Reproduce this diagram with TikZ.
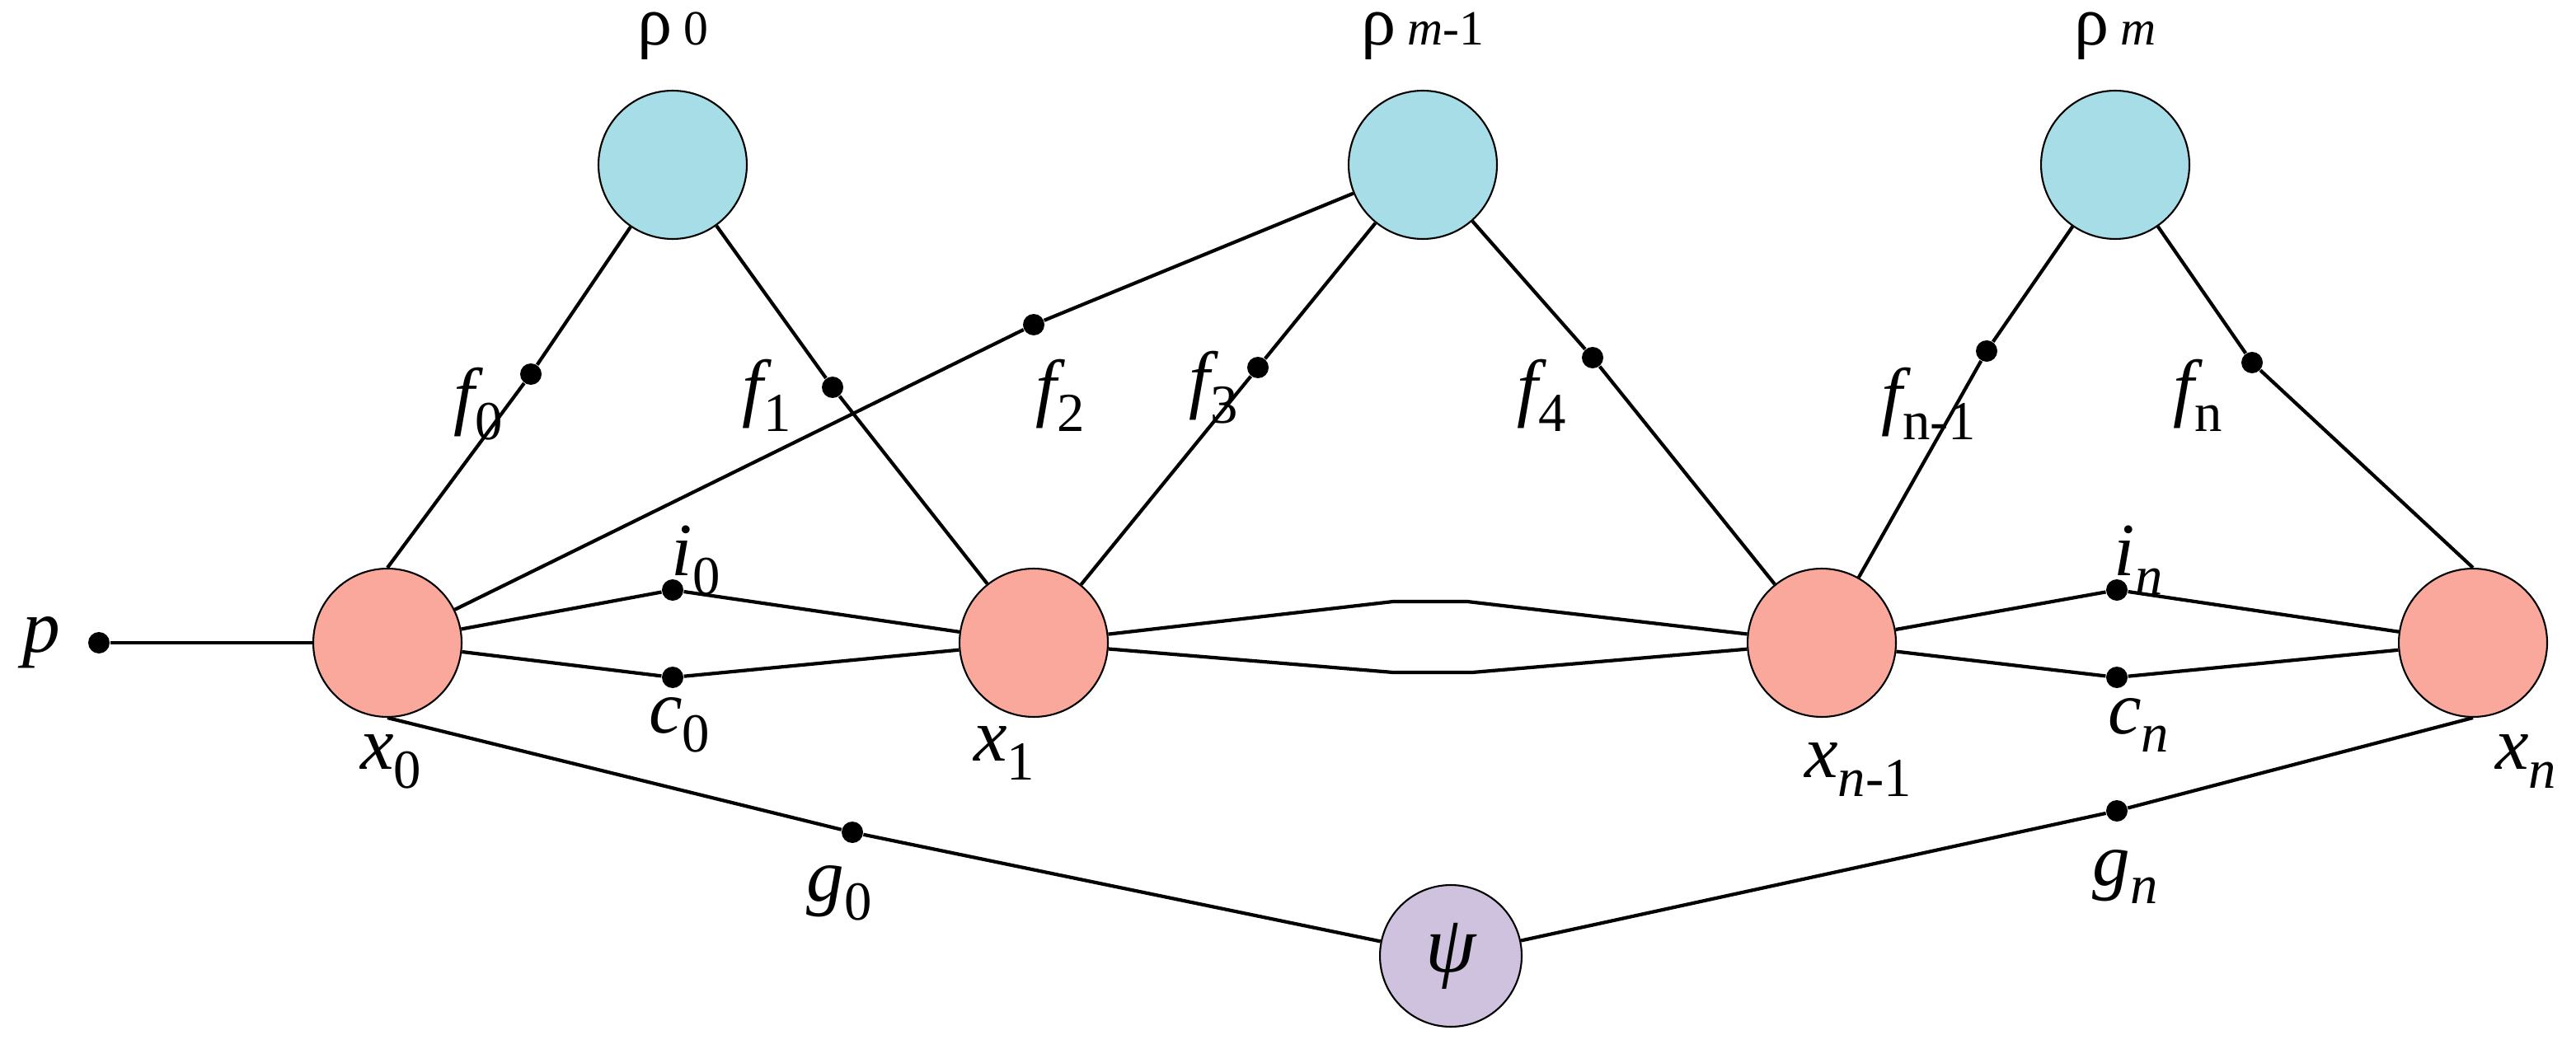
\documentclass[tikz,border=0pt]{standalone}
\usepackage{fontspec}
\setmainfont{Liberation Serif}
\newcommand{\sbs}[1]{\raisebox{-0.25em}{\fontsize{19}{20}\selectfont #1}}
\begin{document}
\begin{tikzpicture}[x=0.02cm,y=-0.02cm,
  bc/.style={circle,draw,fill={rgb,255:red,166;green,221;blue,230},minimum size=1.8cm,line width=0.6pt},
  rc/.style={circle,draw,fill={rgb,255:red,251;green,168;blue,156},minimum size=1.8cm,line width=0.6pt},
  pc/.style={circle,draw,fill={rgb,255:red,207;green,194;blue,222},minimum size=1.72cm,line width=0.6pt},
  dot/.style={circle,fill=black,minimum size=0.26cm,inner sep=0pt},
  lab/.style={font=\fontsize{26}{30}\selectfont\itshape,inner sep=1pt},
  edge/.style={line width=1.2pt}]
\useasboundingbox (0,0) rectangle (1562.5,636.5);
\node[bc] (r0) at (408,100) {};
\node[bc] (rm1) at (863,100) {};
\node[bc] (rm) at (1283,100) {};
\node[rc] (x0) at (235,390) {};
\node[rc] (x1) at (627,390) {};
\node[rc] (xn1) at (1105,390) {};
\node[rc] (xn) at (1500,390) {};
\node[pc,font=\fontsize{28}{30}\selectfont\itshape] (psi) at (880,580) {ψ};
\node[dot] (p) at (60,390) {};
\node[dot] (f0) at (322,227) {};
\node[dot] (f1) at (505,235) {};
\node[dot] (f2) at (627,197) {};
\node[dot] (f3) at (763,223) {};
\node[dot] (f4) at (966,217) {};
\node[dot] (fn1) at (1205,213) {};
\node[dot] (fn) at (1366,220) {};
\node[dot] (i0) at (408,358) {};
\node[dot] (c0) at (408,411) {};
\node[dot] (in) at (1284,358) {};
\node[dot] (cn) at (1284,411) {};
\node[dot] (g0) at (517,505) {};
\node[dot] (gn) at (1284,492) {};
\coordinate (t1) at (845,365); \coordinate (t2) at (890,365);
\coordinate (b1) at (845,408); \coordinate (b2) at (893,408);
\begin{scope}[edge]
\draw (p) -- (x0);
\draw (x0.north) -- (f0) -- (r0) -- (f1) -- (x1);
\draw (x0) -- (f2) -- (rm1);
\draw (x1) -- (f3) -- (rm1) -- (f4) -- (xn1);
\draw (xn1) -- (fn1) -- (rm) -- (fn) -- (xn.north);
\draw (x0) -- (i0) -- (x1);
\draw (x0) -- (c0) -- (x1);
\draw (x1) -- (t1) -- (t2) -- (xn1);
\draw (x1) -- (b1) -- (b2) -- (xn1);
\draw (xn1) -- (in) -- (xn);
\draw (xn1) -- (cn) -- (xn);
\draw (x0.south) -- (g0) -- (psi) -- (gn) -- (xn.south);
\end{scope}
\begin{scope}[lab]
\node[font=\fontsize{24}{28}\selectfont] at (408,22) {ρ\,{\fontsize{17}{20}\selectfont 0}};
\node[font=\fontsize{24}{28}\selectfont] at (863,22) {ρ\,{\fontsize{17}{20}\selectfont\itshape m\upshape-1}};
\node[font=\fontsize{24}{28}\selectfont] at (1283,22) {ρ\,{\fontsize{17}{20}\selectfont\itshape m}};
\node at (290,245) {f\sbs{\upshape 0}};
\node at (465,240) {f\sbs{\upshape 1}};
\node at (643,240) {f\sbs{\upshape 2}};
\node at (736,235) {f\sbs{\upshape 3}};
\node at (935,240) {f\sbs{\upshape 4}};
\node at (1170,245) {f\sbs{\upshape n-1}};
\node at (1333,240) {f\sbs{\upshape n}};
\node at (422,340) {i\sbs{\upshape 0}};
\node at (412,440) {c\sbs{\upshape 0}};
\node at (1297,340) {i\sbs{n}};
\node at (1297,440) {c\sbs{n}};
\node at (237,462) {x\sbs{\upshape 0}};
\node at (609,457) {x\sbs{\upshape 1}};
\node at (1127,467) {x\sbs{n\upshape -1}};
\node at (1532,462) {x\sbs{n}};
\node at (509,542) {g\sbs{\upshape 0}};
\node at (1289,532) {g\sbs{n}};
\node at (25,390) {p};
\end{scope}
\end{tikzpicture}
\end{document}
